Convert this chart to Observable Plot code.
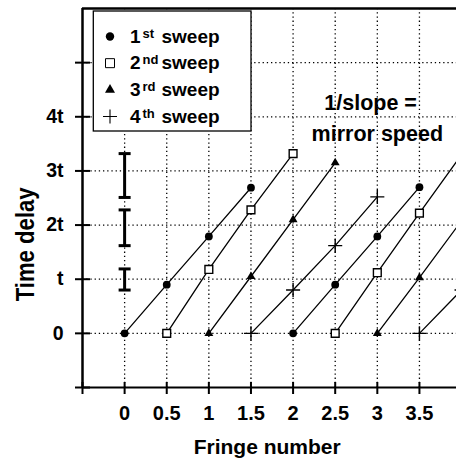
<!DOCTYPE html>
<html>
<head>
<meta charset="utf-8">
<script src="https://cdn.jsdelivr.net/npm/d3@7"></script>
<script src="https://cdn.jsdelivr.net/npm/@observablehq/plot@0.6"></script>
<style>
  body { margin: 0; background: #fff; }
  #chart { position: relative; width: 456px; height: 460px; overflow: hidden; background: #fff; }
</style>
</head>
<body>
<div id="chart"></div>
<script>
// Each run is one sweep, sampled every half fringe from where it starts.
const runStarts = [0, 0.5, 1, 1.5, 2, 2.5, 3, 3.5];
const runSweeps = ["1st", "2nd", "3rd", "4th", "1st", "2nd", "3rd", "4th"];
const runDelays = [
  [0, 0.90, 1.79, 2.69],
  [0, 1.18, 2.28, 3.32],
  [0, 1.05, 2.10, 3.15],
  [0, 0.80, 1.62, 2.52],
  [0, 0.90, 1.79, 2.70],
  [0, 1.12, 2.22, 3.30],
  [0, 1.03, 2.08, 3.13],
  [0, 0.80, 1.62, 2.52]
];
const fringeStep = 0.5;

// Spread of the measured delay around t, 2t and 3t
const spreadFringe = 0;
const spreadLow = [0.80, 1.62, 2.51];
const spreadHigh = [1.19, 2.28, 3.32];

// Legend entries
const sweepNames = ["1st", "2nd", "3rd", "4th"];
const sweepNumbers = ["1", "2", "3", "4"];
const sweepSuffixes = ["st", "nd", "rd", "th"];
const sweepWord = "sweep";

// Axes
const xTicks = [-0.5, 0, 0.5, 1, 1.5, 2, 2.5, 3, 3.5];
const xTickLabels = ["", "0", "0.5", "1", "1.5", "2", "2.5", "3", "3.5"];
const yTicks = [-1, 0, 1, 2, 3, 4, 5];
const yTickLabels = ["", "0", "t", "2t", "3t", "4t", ""];
const xTitle = "Fringe number";
const yTitle = "Time delay";
const yTitleAt = 1.644;

// Note about the slope
const noteLines = ["1/slope =", "mirror speed"];
const noteX = [2.92, 3.0];
const noteY = [4.12, 3.56];

const points = runStarts.flatMap((start, run) =>
  runDelays[run].map((delay, j) => ({
    run,
    sweep: runSweeps[run],
    fringe: start + j * fringeStep,
    delay
  }))
);
const spread = spreadLow.map((low, i) => ({fringe: spreadFringe, low, high: spreadHigh[i]}));

const font = "'Liberation Sans', Arial, Helvetica, sans-serif";
const dotted = {stroke: "black", strokeOpacity: 1, strokeWidth: 1.3, strokeDasharray: "1.3,2.9"};

// horizontal bar used for the error-bar caps
const capSymbol = {
  draw(context, size) {
    const r = Math.sqrt(size / Math.PI);
    context.moveTo(-r, 0);
    context.lineTo(r, 0);
  }
};

const sweepStyle = {
  "1st": {symbol: "circle", r: 3.9, fill: "black", stroke: "none"},
  "2nd": {symbol: "square", r: 4.4, fill: "white", stroke: "black", strokeWidth: 1.4},
  "3rd": {symbol: "triangle", r: 3.3, fill: "black", stroke: "none"},
  "4th": {symbol: "plus", r: 4.6, fill: "none", stroke: "black", strokeWidth: 1.4}
};

const chart = Plot.plot({
  width: 456,
  height: 460,
  marginLeft: 82,
  marginRight: 0,
  marginTop: 8,
  marginBottom: 73,
  style: {fontFamily: font, fontSize: "19.5px", fontWeight: "bold", color: "black", background: "white"},
  x: {domain: [-0.5, 3.94], label: null},
  y: {domain: [-1, 6], label: null},
  marks: [
    Plot.gridX(xTicks.filter((d) => d > -0.5), dotted),
    Plot.gridY(yTicks.filter((d) => d >= 0), dotted),
    Plot.axisX(xTicks, {
      tickSize: 12, dy: -5, tickPadding: 11, strokeWidth: 2, fontSize: 20,
      tickFormat: (d) => xTickLabels[xTicks.indexOf(d)]
    }),
    Plot.axisY(yTicks, {
      tickSize: 15, dx: 8, tickPadding: 12, strokeWidth: 2,
      tickFormat: (d) => yTickLabels[yTicks.indexOf(d)]
    }),
    Plot.ruleX([-0.5], {strokeWidth: 2.5}),
    Plot.ruleY([6], {strokeWidth: 2.5}),
    Plot.ruleY([-1], {strokeWidth: 2}),
    Plot.line(points, {x: "fringe", y: "delay", z: "run", stroke: "black", strokeWidth: 1.3, clip: true}),
    Plot.ruleX(spread, {x: "fringe", y1: "low", y2: "high", strokeWidth: 3}),
    Plot.dot(spread, {x: "fringe", y: "low", symbol: capSymbol, r: 6, fill: "none", stroke: "black", strokeWidth: 3}),
    Plot.dot(spread, {x: "fringe", y: "high", symbol: capSymbol, r: 6, fill: "none", stroke: "black", strokeWidth: 3}),
    ...sweepNames.map((s) =>
      Plot.dot(points.filter((p) => p.sweep === s), {x: "fringe", y: "delay", ...sweepStyle[s], clip: true})
    ),
    Plot.text(noteLines, {x: noteX, y: noteY, text: (d) => d, fontSize: 21.5, lineAnchor: "bottom"}),
    Plot.text([yTitle], {
      frameAnchor: "left", y: [yTitleAt], rotate: -90, textAnchor: "middle",
      dx: -57, fontSize: 26, className: "y-title"
    }),
    Plot.text([xTitle], {frameAnchor: "bottom", lineAnchor: "bottom", dx: -2.3, dy: 66.5, fontSize: 21})
  ]
});

// the vertical title is set in a tall, condensed face
d3.select(chart).selectAll(".y-title text")
  .attr("textLength", 114)
  .attr("lengthAdjust", "spacingAndGlyphs");

const container = document.getElementById("chart");
container.appendChild(chart);

// Legend box in the upper left of the plot area
const legend = d3.create("svg")
  .attr("width", 160)
  .attr("height", 122)
  .style("position", "absolute")
  .style("left", "92px")
  .style("top", "10px")
  .style("font-family", font)
  .style("font-weight", "bold");

legend.append("rect")
  .attr("x", 1.3).attr("y", 1)
  .attr("width", 157.7).attr("height", 120)
  .attr("fill", "white").attr("stroke", "black").attr("stroke-width", 1.3);

const legendSymbols = {
  "1st": (g) => g.append("path").attr("d", d3.symbol(d3.symbolCircle, Math.PI * 4.2 * 4.2)()).attr("fill", "black"),
  "2nd": (g) => g.append("path").attr("d", d3.symbol(d3.symbolSquare, 81)()).attr("fill", "white").attr("stroke", "black").attr("stroke-width", 1),
  "3rd": (g) => g.append("path").attr("d", d3.symbol(d3.symbolTriangle, 43.3)()).attr("fill", "black"),
  "4th": (g) => g.append("path").attr("d", "M-7,0H7M0,-7V7").attr("fill", "none").attr("stroke", "black").attr("stroke-width", 1.1)
};

sweepNames.forEach((name, i) => {
  const cy = 26.5 + i * 26.67;
  const row = legend.append("g");
  legendSymbols[name](row.append("g").attr("transform", `translate(18,${cy})`));
  row.append("text").attr("x", 38).attr("y", cy + 6.2).attr("font-size", 19).text(sweepNumbers[i]);
  row.append("text").attr("x", 50.5).attr("y", cy + 1.2).attr("font-size", 13).text(sweepSuffixes[i]);
  row.append("text").attr("x", 69.5).attr("y", cy + 6.2).attr("font-size", 19).text(sweepWord);
});

container.appendChild(legend.node());
</script>
</body>
</html>
